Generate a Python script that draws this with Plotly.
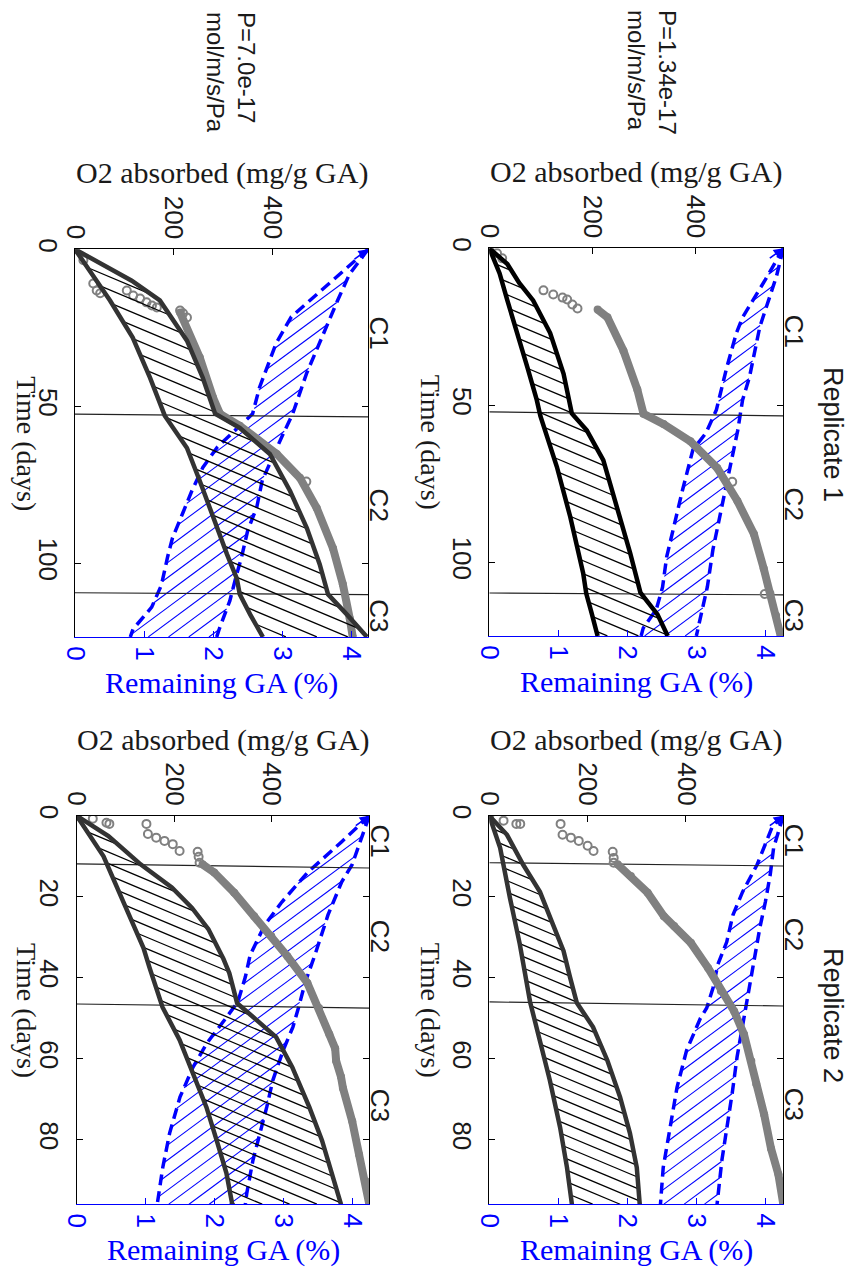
import numpy as np
import plotly.graph_objects as go

# page offset of plotly div (body margin) and figure size
OFF = 8
W, H = 861 - OFF, 1271 - OFF

# ======================= DATA =======================
# ---- Panel A : Replicate 1, P=7.0e-17 (top-left) ----
a_o2lo_t = [0, 5.6, 16.3, 28.1, 40.9, 53.0, 63.3, 73.8, 85.6, 97.1, 104.8, 109.9, 116.3, 123.5]
a_o2lo_v = [0, 24, 71, 117, 152, 182, 227, 253, 280, 308, 328, 334, 355, 381]
a_o2hi_t = [0, 10, 16.3, 29.1, 40.9, 52.4, 56.9, 65.2, 77, 88.8, 100.3, 109.9, 116.3, 123.5]
a_o2hi_v = [0, 115, 172, 227, 259, 284, 334, 395, 436, 470, 496, 513, 551, 592]
a_gal_t = [0, 10, 21.5, 30, 44, 52.4, 58, 63, 69.5, 77, 84, 92, 98, 107, 114, 121, 123.5]
a_gal_v = [4.24, 3.72, 3.13, 2.91, 2.67, 2.57, 2.30, 2.06, 1.85, 1.69, 1.56, 1.41, 1.34, 1.25, 1.11, 0.84, 0.80]
a_gah_t = [0, 8, 16.3, 30, 39.6, 52.4, 59.4, 73.6, 82.2, 89.5, 98.1, 103.5, 112, 120.8, 123.5]
a_gah_v = [4.24, 3.97, 3.80, 3.54, 3.35, 3.15, 3.00, 2.71, 2.63, 2.50, 2.41, 2.34, 2.24, 2.09, 2.05]
a_pts_t = [0, 3.5, 10.9, 13.1, 14.0, 13.1, 14.7, 15.7, 16.9, 17.9, 18.5, 19.5, 20.4, 21.7, 74.0]
a_pts_v = [0, 17, 37, 44, 51, 105, 118, 132, 145, 156, 166, 213, 219, 227, 469]
a_dense_t = [20.1, 34.5, 47.3, 52.4, 56.2, 65.2, 72.8, 82.4, 95.2, 106.7, 117.6, 123.5]
a_dense_v = [213, 253, 280, 294, 334, 409, 456, 490, 523, 543, 557, 563]
a_cut_l = [52.5, 109.4]
a_cut_r = [53.4, 110.0]

# ---- Panel B : Replicate 1, P=1.34e-17 (top-right) ----
b_o2lo_t = [0, 8, 16.6, 27, 38, 48.3, 53.4, 69.6, 85.6, 103.5, 110, 116, 123.5]
b_o2lo_v = [0, 20, 35, 55, 74, 92, 99, 131, 157, 182, 188, 198, 210]
b_o2hi_t = [0, 5, 11, 16.6, 27, 40, 52.6, 58, 67.5, 82.4, 97, 109.7, 116.6, 123.5]
b_o2hi_v = [0, 35, 58, 85, 118, 144, 160, 189, 221, 248, 273, 293, 326, 346]
b_gal_t = [0, 10, 22, 27, 38, 47, 51.5, 58.8, 64.2, 77, 90.7, 98.3, 108, 115, 121, 123.5]
b_gal_v = [4.26, 4.00, 3.67, 3.58, 3.44, 3.34, 3.29, 3.14, 2.95, 2.80, 2.66, 2.57, 2.51, 2.42, 2.23, 2.20]
b_gah_t = [0, 9, 25, 41, 48.3, 58, 70.6, 85.6, 96, 107.8, 114, 123.5]
b_gah_v = [4.26, 4.16, 3.92, 3.77, 3.67, 3.60, 3.48, 3.34, 3.24, 3.16, 3.10, 3.00]
b_pts_t = [0, 1.6, 3.2, 13.4, 14.7, 15.7, 16.3, 17.9, 19.2, 74.4, 110.1]
b_pts_v = [0, 15, 25, 105, 124, 142, 151, 161, 171, 471, 534]
b_dense_t = [19.5, 22, 32.6, 45, 52.7, 56, 61.5, 70, 80.5, 91, 102, 110, 117, 123.5]
b_dense_v = [210, 229, 260, 287, 299, 338, 390, 442, 481, 513, 532, 545, 556, 565]
b_cut_l = [52.1, 109.8]
b_cut_r = [53.4, 110.4]

# ---- Panel C : Replicate 2, P=7.0e-17 (bottom-left) ----
c_o2lo_t = [0, 10, 22.2, 32.7, 37.4, 47.3, 55.4, 63.6, 72, 80.2, 88.3, 96]
c_o2lo_v = [0, 55, 99, 137, 149, 176, 211, 237, 266, 287, 307, 319]
c_o2hi_t = [0, 5, 12, 17.7, 22.7, 28, 35.4, 38.9, 46.3, 49.7, 54.7, 62.1, 72, 80.2, 88.3, 96]
c_o2hi_v = [0, 65, 131, 195, 236, 270, 301, 313, 329, 360, 409, 442, 477, 503, 524, 542]
c_gal_t = [0, 6.4, 13.9, 21.3, 27, 34.4, 39.8, 46, 49.7, 56.2, 62.1, 69.5, 78.4, 86.9, 96]
c_gal_v = [4.25, 3.85, 3.36, 2.98, 2.73, 2.52, 2.45, 2.34, 2.18, 1.89, 1.69, 1.50, 1.35, 1.25, 1.17]
c_gah_t = [0, 4.7, 12.1, 16.3, 24.5, 34.4, 41.1, 47.5, 52.2, 57.9, 65.3, 72, 78.4, 85.1, 93.3, 96]
c_gah_v = [4.25, 4.15, 4.00, 3.85, 3.65, 3.46, 3.32, 3.22, 3.14, 3.00, 2.85, 2.76, 2.66, 2.56, 2.47, 2.45]
c_pts_t = [0, 0.7, 1.7, 2.0, 2.0, 4.5, 5.4, 6.2, 7.0, 8.7, 8.9, 10.1, 11.6]
c_pts_v = [0, 33, 61, 67, 143, 146, 163, 180, 197, 211, 248, 250, 252]
c_dense_t = [12, 14, 19, 24.8, 29.7, 34.7, 41.3, 47.5, 54, 57.5, 60.6, 64.5, 67.3, 75.5, 83.7, 90.3, 96]
c_dense_v = [258, 282, 323, 364, 399, 432, 473, 497, 518, 530, 532, 542, 546, 565, 579, 593, 600]
c_cut_l = [11.9, 46.5]
c_cut_r = [12.9, 47.5]

# ---- Panel D : Replicate 2, P=1.34e-17 (bottom-right) ----
d_o2lo_t = [0, 7.9, 20.3, 31.7, 46, 55.4, 65.3, 77, 86.9, 96]
d_o2lo_v = [0, 22, 42, 62, 83, 103, 123, 144, 158, 168]
d_o2hi_t = [0, 4.7, 12.1, 18.8, 27, 33.4, 39.8, 46.2, 52.2, 60.4, 69.5, 78.4, 86.9, 96]
d_o2hi_v = [0, 36, 69, 103, 130, 151, 164, 178, 211, 240, 266, 286, 300, 306]
d_gal_t = [0, 2.3, 12.1, 18.8, 24.5, 31.2, 36.8, 42.6, 47.5, 50, 57.9, 67.1, 77, 86.9, 96]
d_gal_v = [4.26, 4.11, 3.88, 3.67, 3.53, 3.44, 3.31, 3.24, 3.15, 3.06, 2.86, 2.72, 2.62, 2.52, 2.48]
d_gah_t = [0, 7.9, 14.6, 21.3, 27.7, 34.4, 41.1, 46, 51.2, 59.6, 68.5, 77, 85.1, 96]
d_gah_v = [4.26, 4.12, 4.07, 4.00, 3.92, 3.85, 3.78, 3.74, 3.68, 3.59, 3.52, 3.44, 3.37, 3.30]
d_pts_t = [0, 1.2, 2.0, 2.0, 2.0, 4.7, 5.4, 6.2, 7.4, 8.7, 8.9, 10.4, 11.6]
d_pts_v = [0, 29, 55, 63, 145, 149, 166, 182, 200, 212, 251, 253, 253]
d_dense_t = [12, 14.9, 19, 24.8, 27.2, 31.4, 37.6, 43.3, 48.3, 54, 60.6, 66.3, 73.8, 82.2, 88.6, 96]
d_dense_v = [261, 288, 322, 355, 376, 410, 445, 471, 498, 518, 533, 543, 559, 573, 588, 598]
d_cut_l = [11.6, 46.0]
d_cut_r = [12.4, 47.0]

phase_labels = ["C1", "C2", "C3"]
ga_ticks = [0, 1, 2, 3, 4]
o2_ticks = [0, 200, 400]
time_ticks_r1 = [0, 50, 100]
time_ticks_r2 = [0, 20, 40, 60, 80]
perm_texts = ["P=7.0e-17<br>mol/m/s/Pa", "P=1.34e-17<br>mol/m/s/Pa"]
rep_texts = ["Replicate 1", "Replicate 2"]

# ======================= LAYOUT GEOMETRY =======================
panels = [
    dict(box=(75, 368, 249.3, 637), gmax=4.24, omax=594, tmax=123.5, tt=time_ticks_r1, band_col="#333333",
         o2lo=(a_o2lo_t, a_o2lo_v), o2hi=(a_o2hi_t, a_o2hi_v), gal=(a_gal_t, a_gal_v), gah=(a_gah_t, a_gah_v),
         pts=(a_pts_t, a_pts_v), dense=(a_dense_t, a_dense_v), cuts=(a_cut_l, a_cut_r)),
    dict(box=(489.3, 783.3, 248.3, 636), gmax=4.26, omax=570, tmax=123.5, tt=time_ticks_r1, band_col="#000000",
         o2lo=(b_o2lo_t, b_o2lo_v), o2hi=(b_o2hi_t, b_o2hi_v), gal=(b_gal_t, b_gal_v), gah=(b_gah_t, b_gah_v),
         pts=(b_pts_t, b_pts_v), dense=(b_dense_t, b_dense_v), cuts=(b_cut_l, b_cut_r)),
    dict(box=(76.7, 369.3, 815.8, 1204.3), gmax=4.25, omax=600, tmax=96, tt=time_ticks_r2, band_col="#333333",
         o2lo=(c_o2lo_t, c_o2lo_v), o2hi=(c_o2hi_t, c_o2hi_v), gal=(c_gal_t, c_gal_v), gah=(c_gah_t, c_gah_v),
         pts=(c_pts_t, c_pts_v), dense=(c_dense_t, c_dense_v), cuts=(c_cut_l, c_cut_r)),
    dict(box=(489.3, 783.3, 815.8, 1204.3), gmax=4.26, omax=598, tmax=96, tt=time_ticks_r2, band_col="#333333",
         o2lo=(d_o2lo_t, d_o2lo_v), o2hi=(d_o2hi_t, d_o2hi_v), gal=(d_gal_t, d_gal_v), gah=(d_gah_t, d_gah_v),
         pts=(d_pts_t, d_pts_v), dense=(d_dense_t, d_dense_v), cuts=(d_cut_l, d_cut_r)),
]

SANS = "Liberation Sans"
SERIF = "Liberation Serif"
TXT = "#1a1a1a"
BLUE = "#0000ff"
GRAY = "#808080"


def PX(x):
    return (x - OFF) / W


def PY(y):
    return 1 - (y - OFF) / H


def hatch(lo, hi, vmax, tmax, wpx, hpx, slope, spacing, ax_, ay_):
    lo_t, lo_v = np.asarray(lo[0], float), np.asarray(lo[1], float)
    hi_t, hi_v = np.asarray(hi[0], float), np.asarray(hi[1], float)
    Xs = np.linspace(0, wpx, 900)
    xs = Xs / wpx * vmax
    c0 = ay_ - slope * ax_
    cmin = -abs(slope) * wpx - spacing
    cmax = hpx + abs(slope) * wpx + spacing
    kmin = int(np.floor((cmin - c0) / spacing))
    kmax = int(np.ceil((cmax - c0) / spacing))
    ox, ot = [], []
    for k in range(kmin, kmax + 1):
        c = c0 + k * spacing
        Y = slope * Xs + c
        t = Y / hpx * tmax
        ok = (t >= 0) & (t <= tmax)
        tl = np.clip(t, 0, tmax)
        ok &= (xs >= np.interp(tl, lo_t, lo_v)) & (xs <= np.interp(tl, hi_t, hi_v))
        idx = np.flatnonzero(ok)
        if idx.size < 2:
            continue
        sp = np.where(np.diff(idx) > 1)[0]
        starts = np.r_[idx[0], idx[sp + 1]]
        ends = np.r_[idx[sp], idx[-1]]
        for s, e in zip(starts, ends):
            if e > s:
                ox += [xs[s], xs[e], None]
                ot += [t[s], t[e], None]
    return ox, ot


fig = go.Figure()
layout = dict(width=W, height=H, margin=dict(l=0, r=0, t=0, b=0, pad=0), paper_bgcolor="white",
              plot_bgcolor="white", showlegend=False)
annotations = []

for i, p in enumerate(panels):
    gi, oi, yi = 2 * i + 1, 2 * i + 2, i + 1
    gx = "x" if gi == 1 else f"x{gi}"
    ox_ = f"x{oi}"
    yy = "y" if yi == 1 else f"y{yi}"
    x0, x1, y0, y1 = p["box"]
    wpx, hpx = x1 - x0, y1 - y0
    gk = "xaxis" if gi == 1 else f"xaxis{gi}"
    yk = "yaxis" if yi == 1 else f"yaxis{yi}"
    tickfont = dict(family=SANS, size=26, color=TXT)
    layout[gk] = dict(domain=[PX(x0), PX(x1)], anchor=yy, range=[0, p["gmax"]], side="bottom",
                      tickvals=ga_ticks, ticks="inside", ticklen=6, tickcolor=BLUE, tickwidth=1,
                      showline=True, linecolor=BLUE, linewidth=1.2, tickangle=90, ticklabelstandoff=3,
                      tickfont=dict(family=SANS, size=26, color=BLUE), showgrid=False, zeroline=False,
                      automargin=False)
    layout[f"xaxis{oi}"] = dict(overlaying=gx, anchor=yy, range=[0, p["omax"]], side="top",
                                tickvals=o2_ticks, ticks="inside", ticklen=6, tickcolor="black", tickwidth=1,
                                showline=True, linecolor="black", linewidth=1.2, tickangle=90,
                                tickfont=tickfont, showgrid=False, zeroline=False, automargin=False)
    layout[yk] = dict(domain=[PY(y1), PY(y0)], anchor=gx, range=[p["tmax"], 0],
                      tickvals=p["tt"], ticks="inside", ticklen=6, tickcolor="black", tickwidth=1,
                      showline=True, linecolor="black", linewidth=1.2, mirror="ticks", tickangle=90,
                      ticklabelstandoff=4,
                      tickfont=tickfont, showgrid=False, zeroline=False, automargin=False)

    # measured O2 (gray)
    fig.add_trace(go.Scatter(x=p["dense"][1], y=p["dense"][0], xaxis=ox_, yaxis=yy, mode="lines+markers",
                             line=dict(color=GRAY, width=8), marker=dict(color=GRAY, size=8),
                             hoverinfo="skip"))
    fig.add_trace(go.Scatter(x=p["pts"][1], y=p["pts"][0], xaxis=ox_, yaxis=yy, mode="markers",
                             marker=dict(symbol="circle-open", color=GRAY, size=8, line=dict(width=2)),
                             hoverinfo="skip"))

    # O2 predicted band (black hatch)
    hx, ht = hatch(p["o2lo"], p["o2hi"], p["omax"], p["tmax"], wpx, hpx, 0.42,
                   13.0 if i < 2 else 11.5, 0.0, 0.0)
    fig.add_trace(go.Scatter(x=hx, y=ht, xaxis=ox_, yaxis=yy, mode="lines",
                             line=dict(color="black", width=1.3), hoverinfo="skip"))
    for key in ("o2lo", "o2hi"):
        fig.add_trace(go.Scatter(x=p[key][1], y=p[key][0], xaxis=ox_, yaxis=yy, mode="lines",
                                 line=dict(color=p["band_col"], width=4.5), hoverinfo="skip"))

    # Remaining GA band (blue hatch)
    hx, ht = hatch(p["gal"], p["gah"], p["gmax"], p["tmax"], wpx, hpx, -0.74, 15.0, wpx, 0.0)
    fig.add_trace(go.Scatter(x=hx, y=ht, xaxis=gx, yaxis=yy, mode="lines",
                             line=dict(color=BLUE, width=1.1), hoverinfo="skip"))
    for key in ("gal", "gah"):
        fig.add_trace(go.Scatter(x=p[key][1], y=p[key][0], xaxis=gx, yaxis=yy, mode="lines",
                                 line=dict(color=BLUE, width=3.5, dash="11px,6px"), hoverinfo="skip"))
    annotations.append(dict(x=p["gmax"], y=0, xref=gx, yref=yy, text="", showarrow=True,
                            ax=-15, ay=11, arrowhead=2, arrowsize=1.2, arrowwidth=1.6, arrowcolor=BLUE))

    # phase boundaries
    cl, cr = p["cuts"]
    for a, b in zip(cl, cr):
        fig.add_trace(go.Scatter(x=[0, p["gmax"]], y=[a, b], xaxis=gx, yaxis=yy, mode="lines",
                                 line=dict(color="#222222", width=1.2), hoverinfo="skip"))
    bnd = [0] + [(a + b) / 2 for a, b in zip(cl, cr)] + [p["tmax"]]
    for k, lab in enumerate(phase_labels):
        annotations.append(dict(x=PX(x1 + 11), y=(bnd[k] + bnd[k + 1]) / 2, xref="paper", yref=yy,
                                xanchor="center", yanchor="middle",
                                text=lab, showarrow=False, textangle=90,
                                font=dict(family=SANS, size=26, color=TXT)))

    cx = (x0 + x1) / 2
    annotations.append(dict(x=PX(cx), y=PY(y0 - 76), xref="paper", yref="paper",
                            xanchor="center", yanchor="middle",
                            text="O2 absorbed (mg/g GA)", showarrow=False,
                            font=dict(family=SERIF, size=30, color=TXT)))
    annotations.append(dict(x=PX(cx), y=PY(y1 + 46), xref="paper", yref="paper",
                            xanchor="center", yanchor="middle",
                            text="Remaining GA (%)", showarrow=False,
                            font=dict(family=SERIF, size=30, color=BLUE)))
    annotations.append(dict(x=PX(max(x0 - 58, 27)), y=PY((y0 + y1) / 2), xref="paper", yref="paper",
                            xanchor="center", yanchor="middle",
                            text="Time (days)", showarrow=False, textangle=90,
                            font=dict(family=SERIF, size=28, color=TXT)))

# column / row headers
for txt, xc in zip(perm_texts, [231, 652]):
    annotations.append(dict(x=PX(xc), y=PY(72), xref="paper", yref="paper", text=txt,
                            xanchor="center", yanchor="middle",
                            showarrow=False, textangle=90, align="left",
                            font=dict(family=SANS, size=24, color=TXT)))
for txt, yc in zip(rep_texts, [434, 1015]):
    annotations.append(dict(x=PX(833), y=PY(yc), xref="paper", yref="paper", text=txt,
                            xanchor="center", yanchor="middle",
                            showarrow=False, textangle=90,
                            font=dict(family=SANS, size=27, color=TXT)))

layout["annotations"] = annotations
fig.update_layout(**layout)
fig.write_html("out.html")
